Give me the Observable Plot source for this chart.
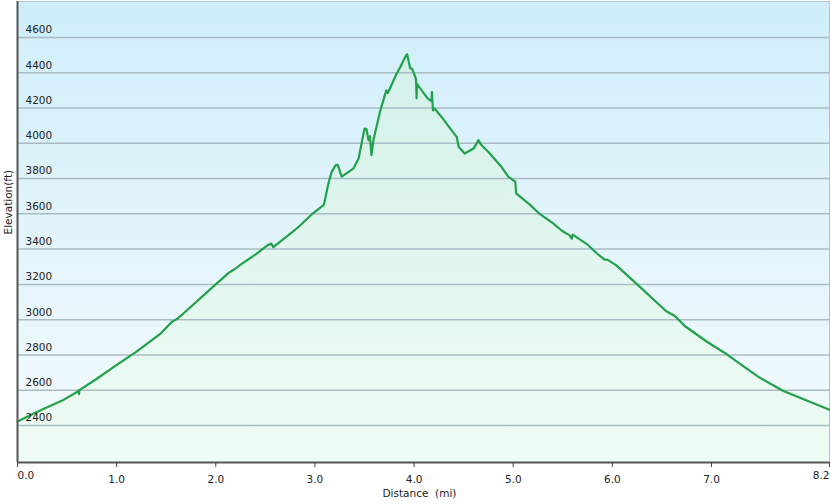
<!DOCTYPE html>
<html>
<head>
<meta charset="utf-8">
<script src="https://cdn.jsdelivr.net/npm/d3@7"></script>
<script src="https://cdn.jsdelivr.net/npm/@observablehq/plot@0.6"></script>
<style>
  html, body { margin: 0; padding: 0; background: #fff; }
  #chart svg { display: block; }
</style>
</head>
<body>
<div id="chart"></div>
<script>
const distance = [
  0.00, 0.20, 0.45, 0.60, 0.615, 0.62, 0.625, 0.80, 0.99, 1.19, 1.44, 1.56, 1.62, 1.96,
  2.13, 2.20, 2.25, 2.40, 2.53, 2.56, 2.58, 2.78, 2.85, 2.98, 3.09, 3.14, 3.17, 3.21,
  3.23, 3.27, 3.39, 3.44, 3.50, 3.52, 3.54, 3.555, 3.57, 3.59, 3.66, 3.72, 3.735, 3.77,
  3.82, 3.86, 3.92, 3.93, 3.96, 3.98, 4.01, 4.02, 4.025, 4.03, 4.14, 4.175, 4.18, 4.19, 4.21,
  4.29, 4.39, 4.43, 4.45, 4.51, 4.60, 4.65, 4.68, 4.75, 4.88, 4.95, 5.02, 5.03, 5.17,
  5.27, 5.40, 5.49, 5.57, 5.59, 5.60, 5.75, 5.84, 5.92, 5.95, 6.04, 6.27, 6.54, 6.63,
  6.73, 6.95, 7.15, 7.48, 7.72, 7.88, 8.19
];
const elevation = [
  2423, 2478, 2541, 2590, 2598, 2578, 2600, 2665, 2739, 2814, 2919, 2989, 3008, 3180,
  3265, 3290, 3312, 3369, 3425, 3431, 3411, 3500, 3534, 3603, 3651, 3782, 3839, 3876,
  3878, 3811, 3858, 3914, 4083, 4080, 4018, 4040, 3933, 4018, 4187, 4300, 4285, 4328,
  4390, 4431, 4500, 4505, 4426, 4422, 4380, 4360, 4255, 4335, 4252, 4240, 4290, 4187, 4196,
  4140, 4065, 4036, 3980, 3942, 3970, 4018, 3989, 3951, 3867, 3811, 3782, 3716, 3651,
  3598, 3547, 3504, 3478, 3459, 3482, 3425, 3378, 3340, 3340, 3308, 3190, 3049, 3021,
  2964, 2876, 2805, 2673, 2597, 2560, 2489
];
const yTicks = [2400, 2600, 2800, 3000, 3200, 3400, 3600, 3800, 4000, 4200, 4400, 4600];
const xTicks = [0, 1, 2, 3, 4, 5, 6, 7, 8.19];
const xTickLabels = ["0.0", "1.0", "2.0", "3.0", "4.0", "5.0", "6.0", "7.0", "8.2"];
const xTitle = "Distance\u00a0\u00a0(mi)";
const yTitle = "Elevation(ft)";

const yMin = 2190, yMax = 4804;
const data = distance.map((d, i) => ({d, e: elevation[i]}));

const defs = () => {
  const g = d3.create("svg:defs");
  const bg = g.append("linearGradient").attr("id", "bgGrad")
    .attr("x1", 0).attr("y1", 0).attr("x2", 0).attr("y2", 1);
  bg.append("stop").attr("offset", "0%").attr("stop-color", "#cfeefa");
  bg.append("stop").attr("offset", "100%").attr("stop-color", "#f5fbfd");
  const ag = g.append("linearGradient").attr("id", "areaGrad")
    .attr("x1", 0).attr("y1", 0).attr("x2", 0).attr("y2", 1);
  ag.append("stop").attr("offset", "0%").attr("stop-color", "#d3f1ea");
  ag.append("stop").attr("offset", "100%").attr("stop-color", "#effcf3");
  return g.node();
};

const chart = Plot.plot({
  width: 830,
  height: 504,
  marginLeft: 17,
  marginRight: 1,
  marginTop: 1,
  marginBottom: 42,
  style: {fontFamily: "'DejaVu Sans', Verdana, sans-serif", fontSize: "10.5px", color: "#222", background: "#fff"},
  x: {domain: [0, 8.19], label: null},
  y: {domain: [yMin, yMax], label: null, axis: null},
  marks: [
    defs,
    Plot.frame({fill: "url(#bgGrad)", stroke: "#b3c3c8", strokeWidth: 1}),
    Plot.areaY(data, {x: "d", y1: yMin, y2: "e", fill: "url(#areaGrad)"}),
    Plot.gridY(yTicks, {stroke: "#a9bcc3", strokeOpacity: 1, strokeWidth: 1.5}),
    Plot.line(data, {x: "d", y: "e", stroke: "#22a04b", strokeWidth: 2.2, strokeLinejoin: "round"}),
    Plot.text(yTicks, {x: 0, y: d => d, text: d => String(d), textAnchor: "start", dx: 8, dy: -7.5, fill: "#222", fontSize: 10.5}),
    Plot.ruleX([0], {stroke: "#555", strokeWidth: 2}),
    Plot.ruleY([yMin], {stroke: "#555", strokeWidth: 2}),
    Plot.axisX(xTicks, {
      tickSize: 5, tickPadding: 8, stroke: "#444", fontSize: 10.5, fill: "#222",
      tickFormat: d => (d > 0 && d < 8) ? xTickLabels[xTicks.indexOf(d)] : ""
    }),
    Plot.text([xTickLabels[0]], {x: 0, frameAnchor: "bottom", dy: 16, textAnchor: "start", fontSize: 10.5, fill: "#222"}),
    Plot.text([xTickLabels[xTickLabels.length - 1]], {x: 8.19, frameAnchor: "bottom", dy: 16, textAnchor: "end", fontSize: 10.5, fill: "#222"}),
    Plot.text([xTitle], {frameAnchor: "bottom", dy: 34, dx: -4, fontSize: 10.5, fill: "#222"}),
    Plot.text([yTitle], {frameAnchor: "left", rotate: -90, dx: -9, dy: 2.5, fontSize: 10.5, fill: "#222"})
  ]
});
document.getElementById("chart").appendChild(chart);
</script>
</body>
</html>
